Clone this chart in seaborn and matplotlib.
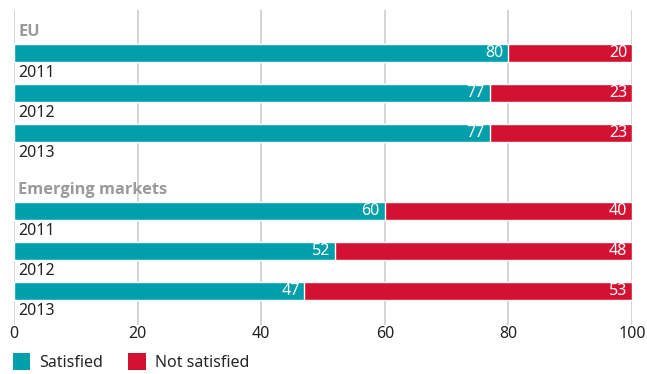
import matplotlib
matplotlib.use("Agg")
import matplotlib.pyplot as plt
import seaborn as sns
import pandas as pd
from matplotlib.patches import Patch

groups = ["EU", "EU", "EU", "Emerging markets", "Emerging markets", "Emerging markets"]
years = ["2011", "2012", "2013", "2011", "2012", "2013"]
satisfied = [80, 77, 77, 60, 52, 47]
not_satisfied = [20, 23, 23, 40, 48, 53]
group_titles = ["EU", "Emerging markets"]
xticks = [0, 20, 40, 60, 80, 100]

TEAL = "#009FAC"
RED = "#D31131"

sns.set_theme(style="white")
plt.rcParams["font.family"] = ["Noto Sans", "DejaVu Sans"]

pos = [0, 1, 2, 3.95, 4.95, 5.95]
df = pd.DataFrame({"group": groups, "year": years, "sat": satisfied,
                   "notsat": not_satisfied, "pos": pos})
df["total"] = df["sat"] + df["notsat"]

fig = plt.figure(figsize=(6.47, 3.74), dpi=100)
ax = fig.add_axes([14/647, 1-325/374, (632-14)/647, (325-10)/374])

for x in xticks:
    ax.axvline(x, color="#d4d4d4", lw=1.4, zorder=0)

sns.barplot(data=df, x="total", y="pos", orient="h", native_scale=True,
            color=RED, width=0.44, saturation=1, ax=ax, zorder=2, errorbar=None)
sns.barplot(data=df, x="sat", y="pos", orient="h", native_scale=True,
            color=TEAL, width=0.44, saturation=1, ax=ax, zorder=3, errorbar=None)

for _, r in df.iterrows():
    ax.text(r["sat"] - 0.8, r["pos"], f"{r['sat']}", color="white", ha="right",
            va="center", fontsize=11.5, zorder=5)
    ax.text(r["total"] - 0.8, r["pos"], f"{r['notsat']}", color="white", ha="right",
            va="center", fontsize=11.5, zorder=5)
    ax.text(0.7, r["pos"] + 0.5, r["year"], color="#222222", ha="left",
            va="center", fontsize=11.5, zorder=5)

first_pos = {}
for g, p in zip(groups, pos):
    first_pos.setdefault(g, p)
for g in group_titles:
    ax.text(0.7, first_pos[g] - 0.53, g, color="#9a9a9a", fontweight="bold",
            family=["Open Sans", "DejaVu Sans"],
            ha="left", va="center", fontsize=11.8, zorder=5)

ax.set_xlim(0, 100)
ax.set_ylim(6.8, -1.075)
ax.set_xticks(xticks)
ax.set_xticklabels([str(x) for x in xticks], fontsize=11.5, color="#222222")
ax.tick_params(axis="x", length=0, pad=1)
ax.set_yticks([])
ax.set_xlabel("")
ax.set_ylabel("")
for s in ax.spines.values():
    s.set_visible(False)
ax.set_facecolor("none")

handles = [Patch(facecolor=TEAL, edgecolor="none", label="Satisfied"),
           Patch(facecolor=RED, edgecolor="none", label="Not satisfied")]
fig.legend(handles=handles, loc="center left", bbox_to_anchor=(11/647, 1-362/374),
           ncol=2, frameon=False, fontsize=11.5, handlelength=1.1, handleheight=1.3,
           handletextpad=0.55, columnspacing=1.6, borderaxespad=0, borderpad=0.1)

fig.savefig("out.png", dpi=100)
